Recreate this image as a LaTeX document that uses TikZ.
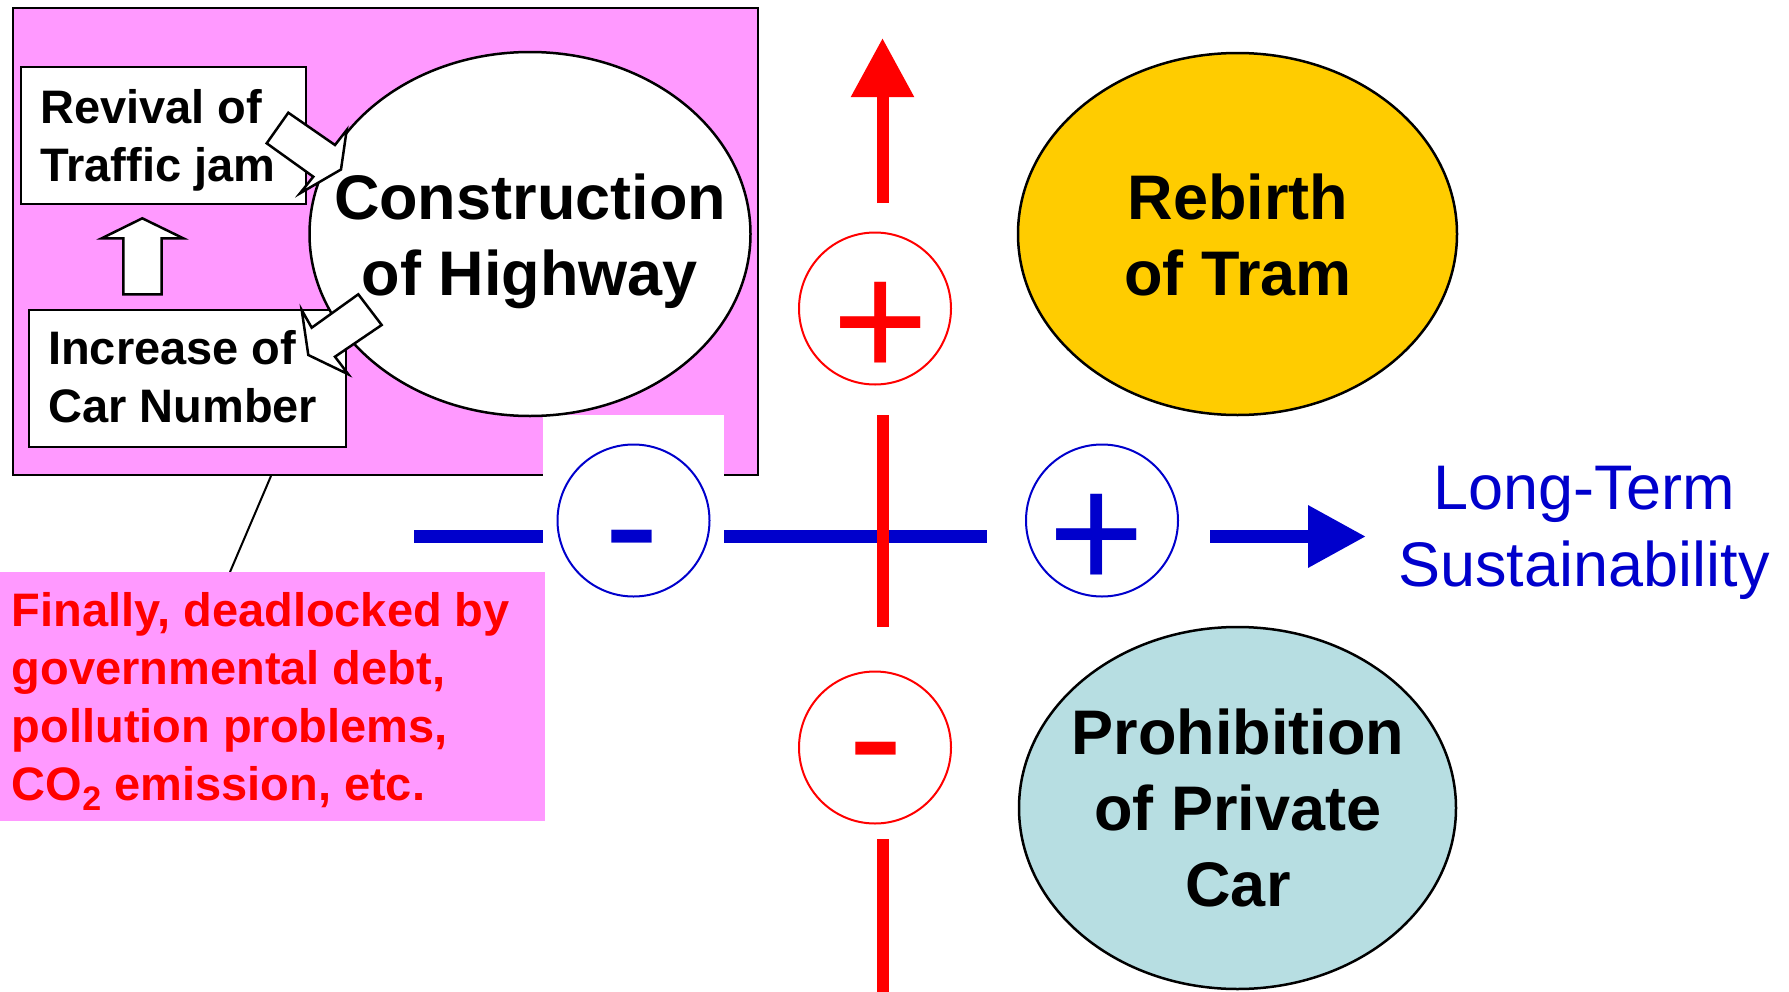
\documentclass[tikz,border=0pt]{standalone}
\usepackage{fontspec}
\setmainfont{Liberation Sans}
\usetikzlibrary{shapes.geometric, arrows.meta}
\definecolor{pinkbg}{RGB}{255,153,255}
\definecolor{myblue}{RGB}{0,0,204}
\definecolor{myred}{RGB}{255,0,0}
\definecolor{tramyellow}{RGB}{255,204,0}
\definecolor{carblue}{RGB}{183,222,226}
\begin{document}
\begin{tikzpicture}[x=1pt, y=-1pt,
  whitebox/.style={draw, fill=white, line width=2.5pt, inner sep=0pt},
  boxtxt/.style={font=\bfseries\fontsize{47}{58}\selectfont, align=left, inner sep=0pt},
  bigtxt/.style={font=\bfseries\fontsize{63}{76}\selectfont, align=center, inner sep=0pt},
  oval/.style={ellipse, draw, line width=2.5pt, inner sep=0pt},
  signcirc/.style={circle, draw, line width=2pt, minimum size=152pt, inner sep=0pt, fill=white},
  signtxt/.style={font=\fontsize{165}{165}\selectfont, inner sep=0pt},
  blockarrow/.style={draw, fill=white, line width=2.5pt, line join=miter},
  blueline/.style={draw=myblue, line width=13pt},
  redline/.style={draw=myred, line width=12pt}
]
\useasboundingbox (0,0) rectangle (1789,991);

% big pink panel
\node[draw, fill=pinkbg, line width=2.5pt, minimum width=745pt, minimum height=467pt, inner sep=0pt] (panel) at (385.5,241.5) {};
\node[fill=white, minimum width=181pt, minimum height=66pt, inner sep=0pt] (gap) at (633.5,448) {};

% connector to the note
\coordinate (lt) at (271,476);
\coordinate (lb) at (230,572);
\draw[line width=2pt] (lt) -- (lb);

% note box
\node[fill=pinkbg, minimum width=545pt, minimum height=249pt, inner sep=0pt] (note) at (272.5,696.5) {};
\node[boxtxt, text=myred, anchor=north west, font=\bfseries\fontsize{47}{57.7}\selectfont] (notetxt) at (11.6,592.7)
 {Finally, deadlocked by\\governmental debt,\\pollution problems,\\CO\raisebox{-10pt}{\fontsize{34}{34}\selectfont 2} emission, etc.};

% small boxes
\node[whitebox, minimum width=285pt, minimum height=137pt] (revival) at (163.5,135.5) {};
\node[boxtxt, anchor=north west] (revivaltxt) at (40,89.7) {Revival of\\Traffic jam};
\node[whitebox, minimum width=317pt, minimum height=137pt] (increase) at (187.5,378.5) {};
\node[boxtxt, anchor=north west] (increasetxt) at (48,330.7) {Increase of\\Car Number};

% up block arrow
\path[blockarrow] (142.3,218.3) -- (183.3,238.3) -- (161.7,238.3) -- (161.7,294.3) -- (123.3,294.3) -- (123.3,238.3) -- (101.7,238.3) -- cycle;

% highway ellipse
\node[oval, fill=white, minimum width=441pt, minimum height=364pt] (highway) at (530,234) {};

% callout arrows
\path[blockarrow] (288.3,112.7) -- (335,145) -- (346.7,130) -- (341,169.5) -- (300,193.3) -- (313.3,176.7) -- (266.7,143.3) -- cycle;
\path[blockarrow] (358.3,294.3) -- (311.7,327.7) -- (301.7,310) -- (308.3,355) -- (348.3,374.3) -- (335,356.7) -- (381.7,325) -- cycle;

\node[bigtxt, anchor=north] (highwaytxt) at (530,173.4) {Construction\\of Highway};

% blue horizontal axis
\coordinate (b0) at (414,536.5);
\coordinate (b1) at (543,536.5);
\coordinate (b2) at (724,536.5);
\coordinate (b3) at (987,536.5);
\coordinate (b4) at (1210,536.5);
\coordinate (btip) at (1366,536.5);
\draw[blueline] (b0) -- (b1);
\draw[blueline] (b2) -- (b3);
\draw[blueline, -{Triangle[length=58pt, width=59pt]}] (b4) -- (btip);
\node[signcirc, draw=myblue] (bminus) at (633.5,520.5) {};
\node[signtxt, text=myblue] (bminustxt) at (632,555.5) {-};
\node[signcirc, draw=myblue] (bplus) at (1102,520.5) {};
\node[signtxt, text=myblue] (bplustxt) at (1097,542) {+};

% red vertical axis
\coordinate (r0) at (882.5,203);
\coordinate (rtip) at (882.5,38);
\coordinate (r1) at (882.5,415);
\coordinate (r2) at (882.5,627);
\coordinate (r3) at (882.5,839);
\coordinate (r4) at (882.5,995);
\draw[redline, -{Triangle[length=59pt, width=60pt]}] (r0) -- (rtip);
\draw[redline] (r1) -- (r2);
\draw[redline] (r3) -- (r4);
\node[signcirc, draw=myred] (rplus) at (875,308.5) {};
\node[signtxt, text=myred] (rplustxt) at (881,330) {+};
\node[signcirc, draw=myred] (rminus) at (875,747.5) {};
\node[signtxt, text=myred] (rminustxt) at (876,767) {-};

% right ellipses
\node[oval, fill=tramyellow, minimum width=439pt, minimum height=362pt] (tram) at (1237.5,234) {};
\node[bigtxt, anchor=north] (tramtxt) at (1238,174) {Rebirth\\of Tram};
\node[oval, fill=carblue, minimum width=437pt, minimum height=362pt] (car) at (1237.5,808) {};
\node[bigtxt, anchor=north] (cartxt) at (1238,709) {Prohibition\\of Private\\Car};

% sustainability label
\node[font=\fontsize{63}{77}\selectfont, text=myblue, align=center, inner sep=0pt, anchor=north] (sust) at (1584,466) {Long-Term\\Sustainability};
\end{tikzpicture}
\end{document}
